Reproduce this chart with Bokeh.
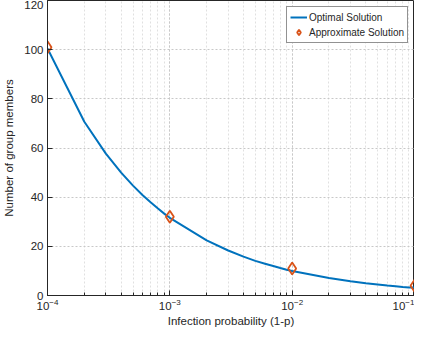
from bokeh.plotting import figure
from bokeh.models import (SingleIntervalTicker, Range1d, Legend, LegendItem)
from bokeh.embed import file_html
from bokeh.resources import INLINE

# ---- data ----
q_opt = [1e-4, 2e-4, 3e-4, 4e-4, 5e-4, 6e-4, 7e-4, 8e-4, 9e-4,
         1e-3, 2e-3, 3e-3, 4e-3, 5e-3, 6e-3, 7e-3, 8e-3, 9e-3,
         1e-2, 2e-2, 3e-2, 4e-2, 5e-2, 6e-2, 7e-2, 8e-2, 9e-2, 1e-1]
n_opt = [100.5, 70.7, 57.7, 50.0, 44.7, 40.8, 37.8, 35.4, 33.3,
         31.6, 22.4, 18.3, 15.8, 14.1, 12.9, 12.0, 11.2, 10.5,
         10.0, 7.1, 5.8, 5.0, 4.5, 4.1, 3.8, 3.5, 3.3, 3.2]
q_apx = [1e-4, 1e-3, 1e-2, 1e-1]
n_apx = [101, 32, 11, 4]

x_label = "Infection probability (1-p)"
y_label = "Number of group members"

FONT = "Liberation Sans"
AX = "#262626"

p = figure(width=414, height=335, x_axis_type="log",
           x_range=Range1d(1e-4, 1e-1), y_range=Range1d(0, 120),
           output_backend="svg", toolbar_location=None,
           min_border_left=37, min_border_right=0, min_border_top=0,
           min_border_bottom=40)
p.outline_line_color = AX
p.outline_line_width = 1
p.background_fill_color = "white"

# axes
for ax in (p.xaxis[0], p.yaxis[0]):
    ax.axis_line_color = AX
    ax.major_tick_in = 5
    ax.major_tick_out = 0
    ax.minor_tick_in = 3
    ax.minor_tick_out = 0
    ax.major_tick_line_color = AX
    ax.minor_tick_line_color = AX
    ax.major_label_text_font = FONT
    ax.major_label_text_font_size = "11.5px"
    ax.major_label_text_color = AX
    ax.axis_label_text_font = FONT
    ax.axis_label_text_font_size = "11.5px"
    ax.axis_label_text_font_style = "normal"
    ax.axis_label_text_color = AX

p.xaxis[0].axis_label = x_label
p.yaxis[0].axis_label = y_label
p.yaxis[0].ticker = SingleIntervalTicker(interval=20, num_minor_ticks=0)
p.yaxis[0].minor_tick_line_color = None
p.xaxis[0].major_label_standoff = 3
p.xaxis[0].axis_label_standoff = 2
p.yaxis[0].major_label_standoff = 4
p.yaxis[0].axis_label_standoff = 6

# glyphs
l1 = p.line(q_opt, n_opt, line_color="#0072BD", line_width=2)
m1 = p.scatter(q_apx, n_apx, marker="diamond", size=12, fill_color=None,
               line_color="#D95319", line_width=1.8)

legend = Legend(items=[LegendItem(label="Optimal Solution", renderers=[l1]),
                       LegendItem(label="Approximate Solution", renderers=[m1])],
                location="top_right")
legend.margin = 0
legend.location = (239, 252)
legend.padding = 3
legend.spacing = 1
legend.glyph_width = 17
legend.glyph_height = 14
legend.label_height = 14
legend.label_standoff = 2
legend.label_text_font = FONT
legend.label_text_font_size = "10px"
legend.label_text_color = AX
legend.border_line_color = AX
legend.border_line_width = 1
legend.background_fill_alpha = 1
p.add_layout(legend, "center")

# grids
p.xgrid.grid_line_color = "#c8c8c8"
p.xgrid.grid_line_dash = "2 2"
p.xgrid.minor_grid_line_color = "#e0e0e0"
p.xgrid.minor_grid_line_dash = "2 2"
p.ygrid.ticker = SingleIntervalTicker(interval=20, num_minor_ticks=0)
p.ygrid.grid_line_color = "#c8c8c8"
p.ygrid.grid_line_dash = "2 2"

open("out.html", "w").write(file_html(p, INLINE))
